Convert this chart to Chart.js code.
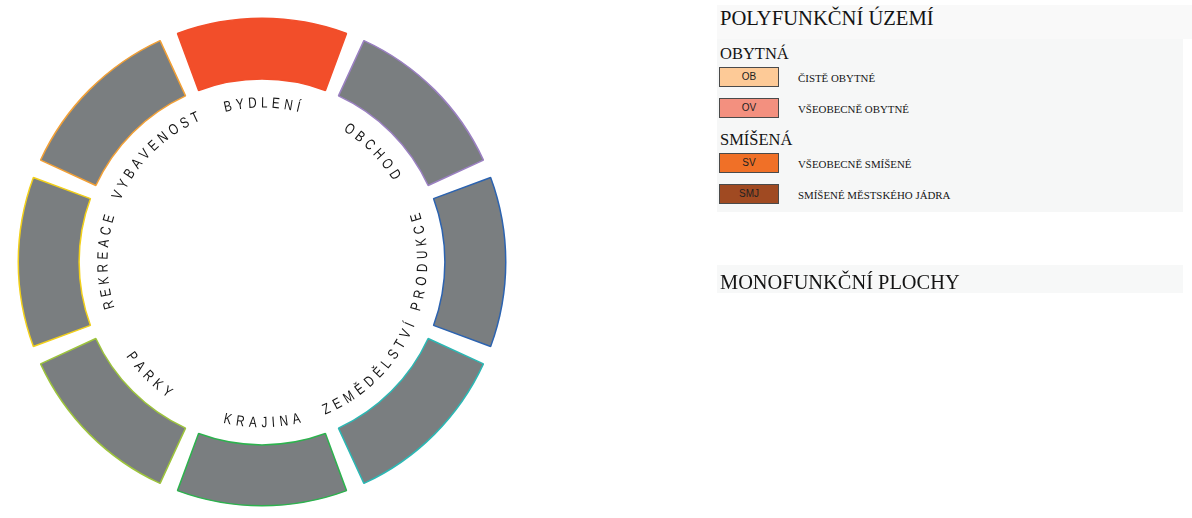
<!DOCTYPE html>
<html lang="cs">
<head>
<meta charset="utf-8">
<script src="https://cdn.jsdelivr.net/npm/chart.js@4.4.0/dist/chart.umd.min.js"></script>
<style>
  html, body { margin: 0; padding: 0; background: #fff; width: 1192px; height: 518px; overflow: hidden; }
  #chartWrap { position: absolute; left: -8.5px; top: -8px; width: 540px; height: 540px; }
  #legenda { position: absolute; left: 0; top: 0; width: 1192px; height: 518px; font-family: "Liberation Serif", serif; color: #141414; }
  .panel { position: absolute; background: #f6f7f7; }
  .t { position: absolute; line-height: 1; white-space: nowrap; }
  .swatch { position: absolute; width: 58px; height: 18px; border: 1px solid #4a4a4a; font: 10px "Liberation Sans", sans-serif; line-height: 18px; text-align: center; color: #222; }
</style>
</head>
<body>
<div id="chartWrap"><canvas id="kruhChart"></canvas></div>
<div id="legenda"></div>
<script>
// --- DATA ---
const kategorie = ['BYDLENÍ', 'OBCHOD', 'PRODUKCE', 'ZEMĚDĚLSTVÍ', 'KRAJINA', 'PARKY', 'REKREACE', 'VYBAVENOST'];
const hodnoty = [1, 1, 1, 1, 1, 1, 1, 1];
const barvyVyplne = ['#f24e2a', '#7a7e80', '#7a7e80', '#7a7e80', '#7a7e80', '#7a7e80', '#7a7e80', '#7a7e80'];
const barvyOkraje = ['#f24e2a', '#9b80c2', '#2c63b0', '#2bb8b4', '#2db24e', '#9dc43c', '#f2d01a', '#f2a036'];

const obytnaKody = ['OB', 'OV'];
const obytnaNazvy = ['ČISTĚ OBYTNÉ', 'VŠEOBECNĚ OBYTNÉ'];
const obytnaBarvy = ['#fdca97', '#f3907f'];
const smisenaKody = ['SV', 'SMJ'];
const smisenaNazvy = ['VŠEOBECNĚ SMÍŠENÉ', 'SMÍŠENÉ MĚSTSKÉHO JÁDRA'];
const smisenaBarvy = ['#f07027', '#a04a22'];

// --- LEGENDA ---
const legenda = document.getElementById('legenda');
function pridej(html) { legenda.insertAdjacentHTML('beforeend', html); }
pridej('<div class="panel" style="left:717px;top:5px;width:466px;height:207px"></div>');
pridej('<div class="panel" style="left:717px;top:5px;width:475px;height:34px;background:#f9f9f9"></div>');
pridej('<div class="panel" style="left:717px;top:265px;width:466px;height:28px;background:#f7f8f8"></div>');
pridej('<div class="t" style="left:720px;top:8px;font-size:20.6px">POLYFUNKČNÍ ÚZEMÍ</div>');
pridej('<div class="t" style="left:720px;top:46px;font-size:16.5px">OBYTNÁ</div>');
pridej('<div class="t" style="left:720px;top:132px;font-size:16.5px">SMÍŠENÁ</div>');
pridej('<div class="t" style="left:720px;top:271.5px;font-size:20.4px">MONOFUNKČNÍ PLOCHY</div>');
const radkyY = [67, 98, 153, 184];
const vsechnyKody = obytnaKody.concat(smisenaKody);
const vsechnyNazvy = obytnaNazvy.concat(smisenaNazvy);
const vsechnyBarvy = obytnaBarvy.concat(smisenaBarvy);
vsechnyKody.forEach((kod, i) => {
    pridej(`<div class="swatch" style="left:719px;top:${radkyY[i]}px;background:${vsechnyBarvy[i]}">${kod}</div>`);
    pridej(`<div class="t" style="left:798px;top:${radkyY[i] + 5.5}px;font-size:10.9px">${vsechnyNazvy[i]}</div>`);
});

// --- POPISKY PO OBLOUKU ---
const MEZERA = 40;
const SX = 0.78;
const ROZESTUP = 4.5;
const obloukovePopisky = {
    id: 'obloukovePopisky',
    afterDatasetsDraw(chart) {
        const ctx = chart.ctx;
        const meta = chart.getDatasetMeta(0);
        ctx.save();
        ctx.font = '15px "Liberation Sans"';
        ctx.fillStyle = '#151515';
        ctx.textAlign = 'center';
        ctx.textBaseline = 'alphabetic';
        meta.data.forEach((arc, i) => {
            const p = arc.getProps(['x', 'y', 'startAngle', 'endAngle', 'innerRadius'], true);
            const r = p.innerRadius + MEZERA / 4 - 13;
            const mid = (p.startAngle + p.endAngle) / 2;
            const znaky = Array.from(chart.data.labels[i]);
            const sirky = znaky.map(c => ctx.measureText(c).width * SX);
            const celkem = sirky.reduce((a, b) => a + b, 0) + ROZESTUP * (znaky.length - 1);
            let theta = (mid + Math.PI / 2) % (2 * Math.PI);
            if (theta < 0) theta += 2 * Math.PI;
            const otocit = theta > Math.PI / 2 - 0.01 && theta < 3 * Math.PI / 2 - 0.01;
            const smer = otocit ? -1 : 1;
            let pos = 0;
            znaky.forEach((c, k) => {
                const a = mid + smer * (pos + sirky[k] / 2 - celkem / 2) / r;
                pos += sirky[k] + ROZESTUP;
                ctx.save();
                ctx.translate(p.x + r * Math.cos(a), p.y + r * Math.sin(a));
                ctx.rotate(a + smer * Math.PI / 2);
                ctx.scale(SX, 1);
                ctx.fillText(c, 0, 5.4);
                ctx.restore();
            });
        });
        ctx.restore();
    }
};

// --- GRAF ---
new Chart(document.getElementById('kruhChart'), {
    type: 'doughnut',
    data: {
        labels: kategorie,
        datasets: [{ data: hodnoty, backgroundColor: barvyVyplne, borderColor: barvyOkraje, borderWidth: 1.5, spacing: MEZERA }]
    },
    options: {
        responsive: true,
        maintainAspectRatio: false,
        animation: false,
        cutout: '72.8%',
        rotation: -22.5,
        layout: { padding: 25.5 },
        plugins: { legend: { display: false }, tooltip: { enabled: false } }
    },
    plugins: [obloukovePopisky]
});
</script>
</body>
</html>
